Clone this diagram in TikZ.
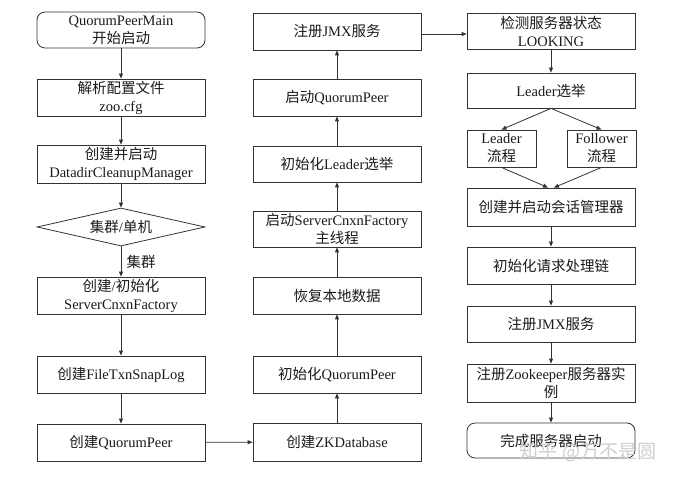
\documentclass[tikz,border=0pt]{standalone}
\usepackage{fontspec}
\setmainfont{Liberation Serif}
\newfontfamily\cjkfont{Noto Sans CJK SC}
\newcommand{\zh}[1]{{\cjkfont #1}}
\usetikzlibrary{shapes.geometric,arrows.meta}
\definecolor{linec}{HTML}{333333}
\definecolor{txt}{HTML}{1A1A1A}
\definecolor{wmark}{HTML}{CFCFCF}
\begin{document}
\begin{tikzpicture}[x=1pt,y=-1pt,
  box/.style={draw=linec, line width=0.8pt, minimum width=168pt, minimum height=37pt,
    inner sep=1pt, align=center, text=txt, font=\fontsize{14.5}{18}\selectfont},
  rbox/.style={box, rounded corners=8pt},
  sbox/.style={box, minimum width=69pt},
  dia/.style={box, diamond, aspect=4.4, minimum width=168pt, minimum height=38pt, inner sep=0pt},
  arr/.style={draw=linec, line width=0.8pt, -{Triangle[length=5pt,width=4pt]}},
  ln/.style={draw=linec, line width=0.8pt}
]
\useasboundingbox (0,0) rectangle (680,478);
% left column
\node[rbox, minimum height=36pt] (b1) at (121,30) {QuorumPeerMain\\\zh{开始启动}};
\node[box] (b2) at (121,97.5) {\zh{解析配置文件}\\zoo.cfg};
\node[box, minimum height=38pt] (b3) at (121,164) {\zh{创建并启动}\\DatadirCleanupManager};
\node[dia] (d) at (121,227) {\zh{集群}/\zh{单机}};
\node[box] (b4) at (121,295.5) {\zh{创建}/\zh{初始化}\\ServerCnxnFactory};
\node[box] (b5) at (121,374.5) {\zh{创建}FileTxnSnapLog};
\node[box] (b6) at (121,442.5) {\zh{创建}QuorumPeer};
% middle column
\node[box] (m1) at (337,31.5) {\zh{注册}JMX\zh{服务}};
\node[box] (m2) at (337,97.5) {\zh{启动}QuorumPeer};
\node[box, minimum height=36pt] (m3) at (337,164) {\zh{初始化}Leader\zh{选举}};
\node[box, minimum height=36pt] (m4) at (337,229) {\zh{启动}ServerCnxnFactory\\\zh{主线程}};
\node[box] (m5) at (337,295.5) {\zh{恢复本地数据}};
\node[box] (m6) at (337,374.5) {\zh{初始化}QuorumPeer};
\node[box, minimum height=38pt] (m7) at (337,442) {\zh{创建}ZKDatabase};
% right column
\node[box, minimum height=36pt] (r1) at (551,31) {\zh{检测服务器状态}\\LOOKING};
\node[box, minimum height=35pt] (r2) at (551,90.5) {Leader\zh{选举}};
\node[sbox] (rL) at (501.5,148.5) {Leader\\\zh{流程}};
\node[sbox] (rF) at (601.5,148.5) {Follower\\\zh{流程}};
\node[box, minimum height=38pt] (r3) at (551,207) {\zh{创建并启动会话管理器}};
\node[box] (r4) at (551,265.5) {\zh{初始化请求处理链}};
\node[box, minimum height=36pt] (r5) at (551,324) {\zh{注册}JMX\zh{服务}};
\node[box, minimum height=38pt] (r6) at (551,383) {\zh{注册}Zookeeper\zh{服务器实}\\\zh{例}};
\node[rbox, minimum height=35pt] (r7) at (551,440.5) {\zh{完成服务器启动}};
% watermark
\node[text=wmark, font=\fontsize{19}{22}\selectfont, inner sep=0pt] (wm) at (588,452) {\zh{知乎 @万不是圆}};
% connectors left
\draw[arr] (b1) -- (b2);
\draw[arr] (b2) -- (b3);
\draw[arr] (b3) -- (d);
\draw[arr] (d) -- node[right, text=txt, font=\fontsize{14.5}{18}\selectfont, xshift=2pt] (lbl) {\zh{集群}} (b4);
\draw[arr] (b4) -- (b5);
\draw[arr] (b5) -- (b6);
\draw[arr] (b6) -- (m7);
% middle up
\draw[arr] (m7) -- (m6);
\draw[arr] (m6) -- (m5);
\draw[arr] (m5) -- (m4);
\draw[arr] (m4) -- (m3);
\draw[arr] (m3) -- (m2);
\draw[arr] (m2) -- (m1);
\draw[arr] ([yshift=-2.5pt]m1.east) -- ([yshift=-2.5pt]m1.east -| r1.west);
% right
\draw[arr] (r1) -- (r2);
\draw[arr] (r2.south) -- (rL.north);
\draw[arr] (r2.south) -- (rF.north);
\draw[arr] (rL.south) -- ([xshift=-3pt]r3.north);
\draw[arr] (rF.south) -- ([xshift=3pt]r3.north);
\draw[arr] (r3) -- (r4);
\draw[arr] (r4) -- (r5);
\draw[arr] (r5) -- (r6);
\draw[arr] (r6) -- (r7);
\end{tikzpicture}
\end{document}
